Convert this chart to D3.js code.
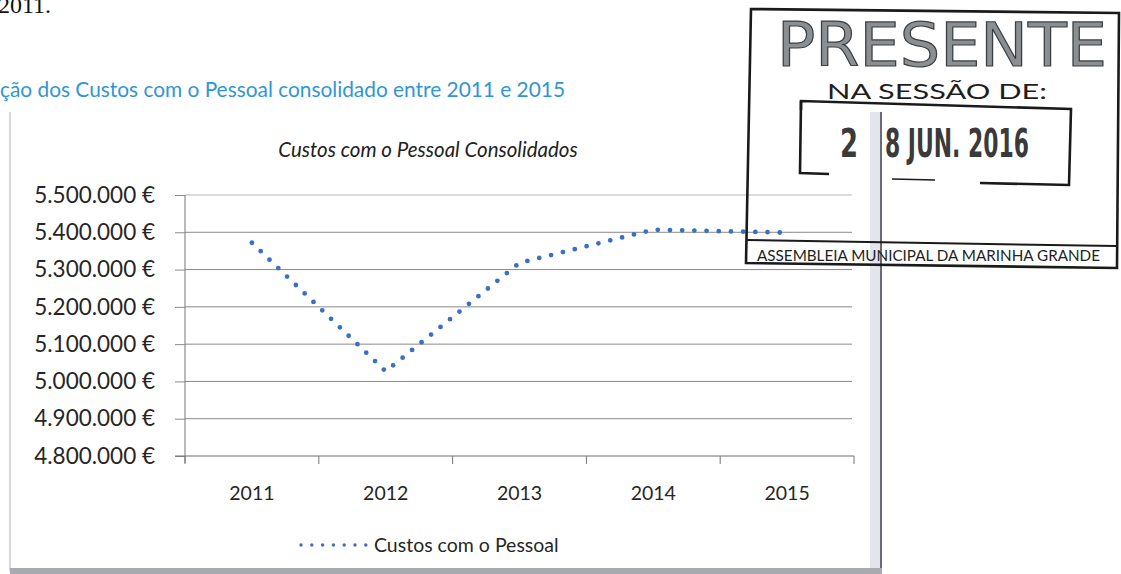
<!DOCTYPE html>
<html>
<head>
<meta charset="utf-8">
<script src="https://cdn.jsdelivr.net/npm/d3@7"></script>
<style>
  body { margin: 0; background: #fff; }
  svg { display: block; }
</style>
</head>
<body>
<div id="chart"></div>
<script>
// data
var years = ["2011", "2012", "2013", "2014", "2015"];
var costs = [5372000, 5027000, 5318000, 5407000, 5399000];
var yTicks = [4800000, 4900000, 5000000, 5100000, 5200000, 5300000, 5400000, 5500000];
var seriesName = "Custos com o Pessoal";
var chartTitle = "Custos com o Pessoal Consolidados";
var pageHeading = "ção dos Custos com o Pessoal consolidado entre 2011 e 2015";

var W = 1121, H = 574;
var plot = { left: 185, right: 854, top: 195, bottom: 456 };
var blue = "#3a6fc6";
var font = "Lato, 'Open Sans', sans-serif";

var svg = d3.select("#chart").append("svg")
  .attr("width", W).attr("height", H);

svg.append("rect").attr("width", W).attr("height", H).attr("fill", "#fff");

// bits of the page around the chart
svg.append("text")
  .attr("x", -2).attr("y", 13)
  .attr("font-family", "'Liberation Serif', serif")
  .attr("font-size", 24).attr("fill", "#111")
  .text("2011.");

svg.append("text")
  .attr("x", 0).attr("y", 97)
  .attr("textLength", 565).attr("lengthAdjust", "spacingAndGlyphs")
  .attr("font-family", font).attr("font-size", 20.5)
  .attr("fill", "#2f97d3")
  .text(pageHeading);

// chart frame
svg.append("line").attr("x1", 10).attr("x2", 10).attr("y1", 112).attr("y2", 571)
  .attr("stroke", "#d6d6de").attr("stroke-width", 2);
svg.append("rect").attr("x", 870).attr("y", 112).attr("width", 10).attr("height", 459)
  .attr("fill", "#e4e4ec");
svg.append("line").attr("x1", 881).attr("x2", 881).attr("y1", 112).attr("y2", 574)
  .attr("stroke", "#6b6b74").attr("stroke-width", 2);
svg.append("rect").attr("x", 10).attr("y", 568).attr("width", 872).attr("height", 6)
  .attr("fill", "#a9a9b2");

// scales
var x = d3.scaleBand().domain(years).range([plot.left, plot.right]);
var y = d3.scaleLinear().domain([4800000, 5500000]).range([plot.bottom, plot.top]);

var pt = d3.formatLocale({ decimal: ",", thousands: ".", grouping: [3], currency: ["", " €"] });
var fmt = pt.format("$,.0f");

// gridlines
svg.append("g")
  .selectAll("line")
  .data(yTicks.slice(1))
  .join("line")
  .attr("x1", plot.left).attr("x2", plot.right - 2)
  .attr("y1", function (d) { return y(d); })
  .attr("y2", function (d) { return y(d); })
  .attr("stroke", function (d) { return d === 5500000 ? "#b8b8b8" : "#8a8a8a"; })
  .attr("stroke-width", 1);

// y axis
var yAxis = svg.append("g")
  .attr("transform", "translate(" + plot.left + ",0)")
  .call(d3.axisLeft(y).tickValues(yTicks).tickFormat(fmt).tickSize(10).tickSizeOuter(0).tickPadding(20));
yAxis.select(".domain").attr("stroke", "#777").attr("d", "M0," + plot.top + "V" + (plot.bottom + 7));
yAxis.selectAll(".tick line").attr("stroke", "#8a8a8a");
yAxis.selectAll("text")
  .attr("font-family", font).attr("font-size", 22.5).attr("fill", "#262626");

// x axis
var xAxis = svg.append("g")
  .attr("transform", "translate(0," + plot.bottom + ")")
  .call(d3.axisBottom(x).tickSize(0).tickPadding(30));
xAxis.select(".domain").attr("stroke", "#6e6e6e").attr("d", "M" + (plot.left - 10) + ",0H" + plot.right);
xAxis.selectAll("text")
  .attr("font-family", font).attr("font-size", 19.5).attr("fill", "#262626");
xAxis.append("g")
  .selectAll("line")
  .data(years.concat(["end"]))
  .join("line")
  .attr("x1", function (d, i) { return i < years.length ? x(d) : plot.right; })
  .attr("x2", function (d, i) { return i < years.length ? x(d) : plot.right; })
  .attr("y1", 0).attr("y2", 8)
  .attr("stroke", "#777");

// title
svg.append("text")
  .attr("x", 428).attr("y", 157)
  .attr("text-anchor", "middle")
  .attr("font-family", font).attr("font-style", "italic")
  .attr("font-size", 20.5).attr("fill", "#222")
  .text(chartTitle);

// dotted series line
var line = d3.line()
  .x(function (d, i) { return x(years[i]) + x.bandwidth() / 2; })
  .y(function (d) { return y(d); });

svg.append("path")
  .datum(costs)
  .attr("d", line)
  .attr("fill", "none")
  .attr("stroke", blue)
  .attr("stroke-width", 4.8)
  .attr("stroke-linecap", "round")
  .attr("stroke-dasharray", "0 12.2");

// legend
svg.append("line")
  .attr("x1", 301).attr("x2", 366).attr("y1", 545).attr("y2", 545)
  .attr("stroke", blue).attr("stroke-width", 3.4)
  .attr("stroke-linecap", "round").attr("stroke-dasharray", "0 10.8");
svg.append("text")
  .attr("x", 374).attr("y", 552)
  .attr("font-family", font).attr("font-size", 19.5).attr("fill", "#262626")
  .text(seriesName);

// the assembly stamp on top
var stamp = svg.append("g").attr("fill", "none").attr("stroke", "#1a1a1a").attr("stroke-width", 2.6);
stamp.append("path").attr("d", "M751,9 L1119,13 L1117,268 L746,263 Z");
stamp.append("path").attr("d", "M746,240 L1116,246").attr("stroke-width", 2);
stamp.append("path").attr("d", "M801,110 L801,101 L1071,109 L1069,185 L980,183");
stamp.append("path").attr("d", "M801,101 L800,173 L829,174");
stamp.append("path").attr("d", "M892,179 L935,180").attr("stroke-width", 1.6);

svg.append("text")
  .attr("x", 777).attr("y", 66)
  .attr("textLength", 330).attr("lengthAdjust", "spacingAndGlyphs")
  .attr("font-family", "'DejaVu Sans', sans-serif").attr("font-size", 60)
  .attr("fill", "#8b8f92").attr("stroke", "#3c3f42").attr("stroke-width", 1.2)
  .text("PRESENTE");

svg.append("text")
  .attr("x", 827).attr("y", 99)
  .attr("textLength", 220).attr("lengthAdjust", "spacingAndGlyphs")
  .attr("font-family", font).attr("font-size", 22).attr("fill", "#1e1e1e")
  .text("NA SESSÃO DE:");

var dateFont = "'DejaVu Sans Condensed', 'Liberation Sans Narrow', sans-serif";
svg.append("text")
  .attr("x", 840).attr("y", 157)
  .attr("textLength", 18).attr("lengthAdjust", "spacingAndGlyphs")
  .attr("font-family", dateFont)
  .attr("font-weight", "bold").attr("font-size", 39).attr("fill", "#3a3a3a")
  .text("2");
svg.append("text")
  .attr("x", 885).attr("y", 157)
  .attr("textLength", 144).attr("lengthAdjust", "spacingAndGlyphs")
  .attr("font-family", dateFont)
  .attr("font-weight", "bold").attr("font-size", 39).attr("fill", "#3a3a3a")
  .text("8 JUN. 2016");

svg.append("text")
  .attr("x", 757).attr("y", 261)
  .attr("textLength", 343).attr("lengthAdjust", "spacingAndGlyphs")
  .attr("font-family", font).attr("font-size", 15).attr("fill", "#1e1e1e")
  .text("ASSEMBLEIA MUNICIPAL DA MARINHA GRANDE");
</script>
</body>
</html>
